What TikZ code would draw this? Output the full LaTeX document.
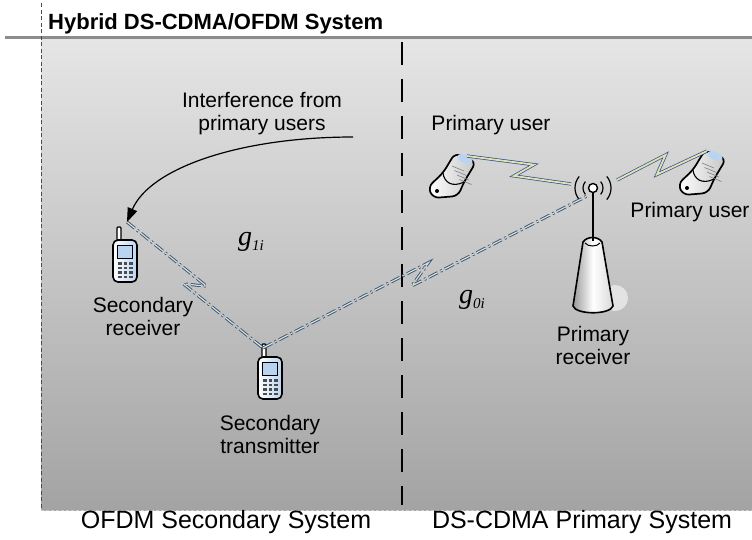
\documentclass[tikz,border=0pt]{standalone}
\usepackage{fontspec}
\setmainfont{Liberation Sans}
\newfontfamily\gainfont{Liberation Serif}
\usetikzlibrary{calc,arrows.meta}

\definecolor{linkblue}{RGB}{46,80,150}
\definecolor{boltfill}{RGB}{228,226,170}
\definecolor{screenblue}{RGB}{184,212,240}

\newcommand{\gain}[1]{\itshape g\raisebox{-5pt}{\fontsize{15}{15}\selectfont #1}}

\tikzset{
  lbl/.style={font=\fontsize{21}{23}\selectfont, align=center, inner sep=0pt},
  syslbl/.style={font=\fontsize{25}{28}\selectfont, inner sep=0pt},
  gainlbl/.style={font=\gainfont\fontsize{28}{30}\selectfont, inner sep=0pt},
  radio/.style={draw=linkblue, double=boltfill, double distance=1.8pt, line width=0.7pt, line join=miter},
  radiodash/.style={radio, double distance=1.2pt, line width=0.9pt, dash pattern=on 10pt off 3pt on 2pt off 3pt},
  % candy bar handset, body centred 7pt below the origin
  pics/handset/.style={code={
    \draw[fill=white, line width=1.2pt, rounded corners=1pt] (-8,-27) rectangle (-4,-13);
    \draw[line width=1.6pt, rounded corners=5pt, left color=white, right color=screenblue]
      (-12,-14) rectangle (12,28);
    \draw[fill=screenblue, line width=0.8pt] (-8,-9) rectangle (7,4);
    \foreach \r in {0,...,3}
      \foreach \c in {0,1,2}
        \fill[black!70] ({-7+5.5*\c},{8+4.5*\r}) rectangle ++(3.5,2.5);
  }},
  % tilted flip phone
  pics/flipphone/.style={code={
    \draw[line width=1.7pt, rounded corners=6pt, left color=white, right color=gray!45]
      (3,-23) -- (24,-14) -- (12,6) -- (6,20) -- (-19,22) -- (-24,11) -- (-9,-3) -- cycle;
    \fill[screenblue, rotate around={-24:(13,-17)}] (13,-17) ellipse (8 and 4);
    \foreach \k in {0,1,2,3}
      \draw[gray, line width=0.6pt] ($(0,-10)+(\k*2.5,\k*4.5)$) -- ++(12,5);
    \draw[line width=1.1pt] (-9,-3) .. controls (-8,6) and (0,12) .. (12,6);
    \fill (-15,15) circle (2pt);
  }}
}

\begin{document}
\begin{tikzpicture}[x=1pt, y=-1pt]
  \useasboundingbox (0,0) rectangle (752,539);

  % frame of the two systems
  \shade[top color=black!10, bottom color=black!36] (41,38) rectangle (752,510);
  \draw[line width=3pt, black!45] (5,37) -- (752,37);
  \draw[black!70, line width=0.8pt, dash pattern=on 4pt off 2.5pt] (41,3) -- (41,510);
  \draw[black!20, line width=1pt, dash pattern=on 3pt off 2pt] (41,510) -- (752,510);
  \draw[line width=1.2pt, dash pattern=on 23pt off 14pt] (402,42) -- (402,505);

  \node[font=\bfseries\fontsize{22}{24}\selectfont, anchor=base west, inner sep=0pt] (title) at (48,29)
    {Hybrid DS-CDMA/OFDM System};
  \node[syslbl] (ofdm) at (226,522) {OFDM Secondary System};
  \node[syslbl] (cdma) at (582,522) {DS-CDMA Primary System};

  % base station
  \fill[white, opacity=0.55] (615,298) circle (13);
  \draw[line width=1.6pt, left color=black!40, right color=black!15, middle color=white]
    (583,242) -- (573,306) .. controls (576,315) and (610,315) .. (613,306)
    -- (602,242) .. controls (598,236) and (587,236) .. cycle;
  \draw[line width=1pt] (585,243) .. controls (588,247) and (597,247) .. (600,243);
  \coordinate (bs) at (593,188);
  \draw[line width=1.6pt] (593,193) -- (593,241);
  \draw[line width=1.4pt, fill=white] (bs) circle (4.5);
  \foreach \rad in {10,18}{
    \draw[line width=1.2pt] (bs) ++(140:\rad) arc (140:220:\rad);
    \draw[line width=1.2pt] (bs) ++(-40:\rad) arc (-40:40:\rad);
  }

  % handsets
  \pic at (125,254) {handset};
  \pic at (270,371) {handset};
  \pic at (452,176) {flipphone};
  \pic at (702,173) {flipphone};

  \coordinate (rxlink) at (127,222);
  \coordinate (txlink) at (263,348);
  \coordinate (bsfoot) at (587,196);
  \coordinate (bsL) at (571,184);
  \coordinate (bsR) at (617,180);
  \coordinate (puL) at (467,156);
  \coordinate (puR) at (707,151);

  % primary links
  \draw[radio] (puL) -- ($(puL)!0.62!(bsL)!9pt!90:(bsL)$)
    -- ($(puL)!0.47!(bsL)!7pt!-90:(bsL)$) -- (bsL);
  \draw[radio] (bsR) -- ($(bsR)!0.57!(puR)!9pt!90:(puR)$)
    -- ($(bsR)!0.42!(puR)!7pt!-90:(puR)$) -- (puR);

  % secondary links
  \draw[radiodash] (rxlink) -- ($(rxlink)!0.55!(txlink)!7pt!90:(txlink)$)
    -- ($(rxlink)!0.45!(txlink)!7pt!-90:(txlink)$) -- (txlink);
  \draw[radiodash] (txlink) -- ($(txlink)!0.52!(bsfoot)!7pt!90:(bsfoot)$)
    -- ($(txlink)!0.45!(bsfoot)!7pt!-90:(bsfoot)$) -- (bsfoot);

  % interference from the primary side
  \node[lbl] (intf) at (262,114) {Interference from\\primary users};
  \coordinate (intfstart) at (353,137);
  \draw[line width=1.2pt, -{Triangle[length=14pt, width=10pt]}]
    (intfstart) .. controls (240,137) and (150,168) .. (rxlink);

  \node[lbl] (rxlbl) at (143,316) {Secondary\\receiver};
  \node[lbl] (txlbl) at (270,434) {Secondary\\transmitter};
  \node[lbl] (bslbl) at (593,345) {Primary\\receiver};
  \node[lbl] (pu1lbl) at (491,125) {Primary user};
  \node[lbl] (pu2lbl) at (690,212) {Primary user};
  \node[gainlbl] (g1) at (251,242) {\gain{1i}};
  \node[gainlbl] (g0) at (472,300) {\gain{0i}};
\end{tikzpicture}
\end{document}
